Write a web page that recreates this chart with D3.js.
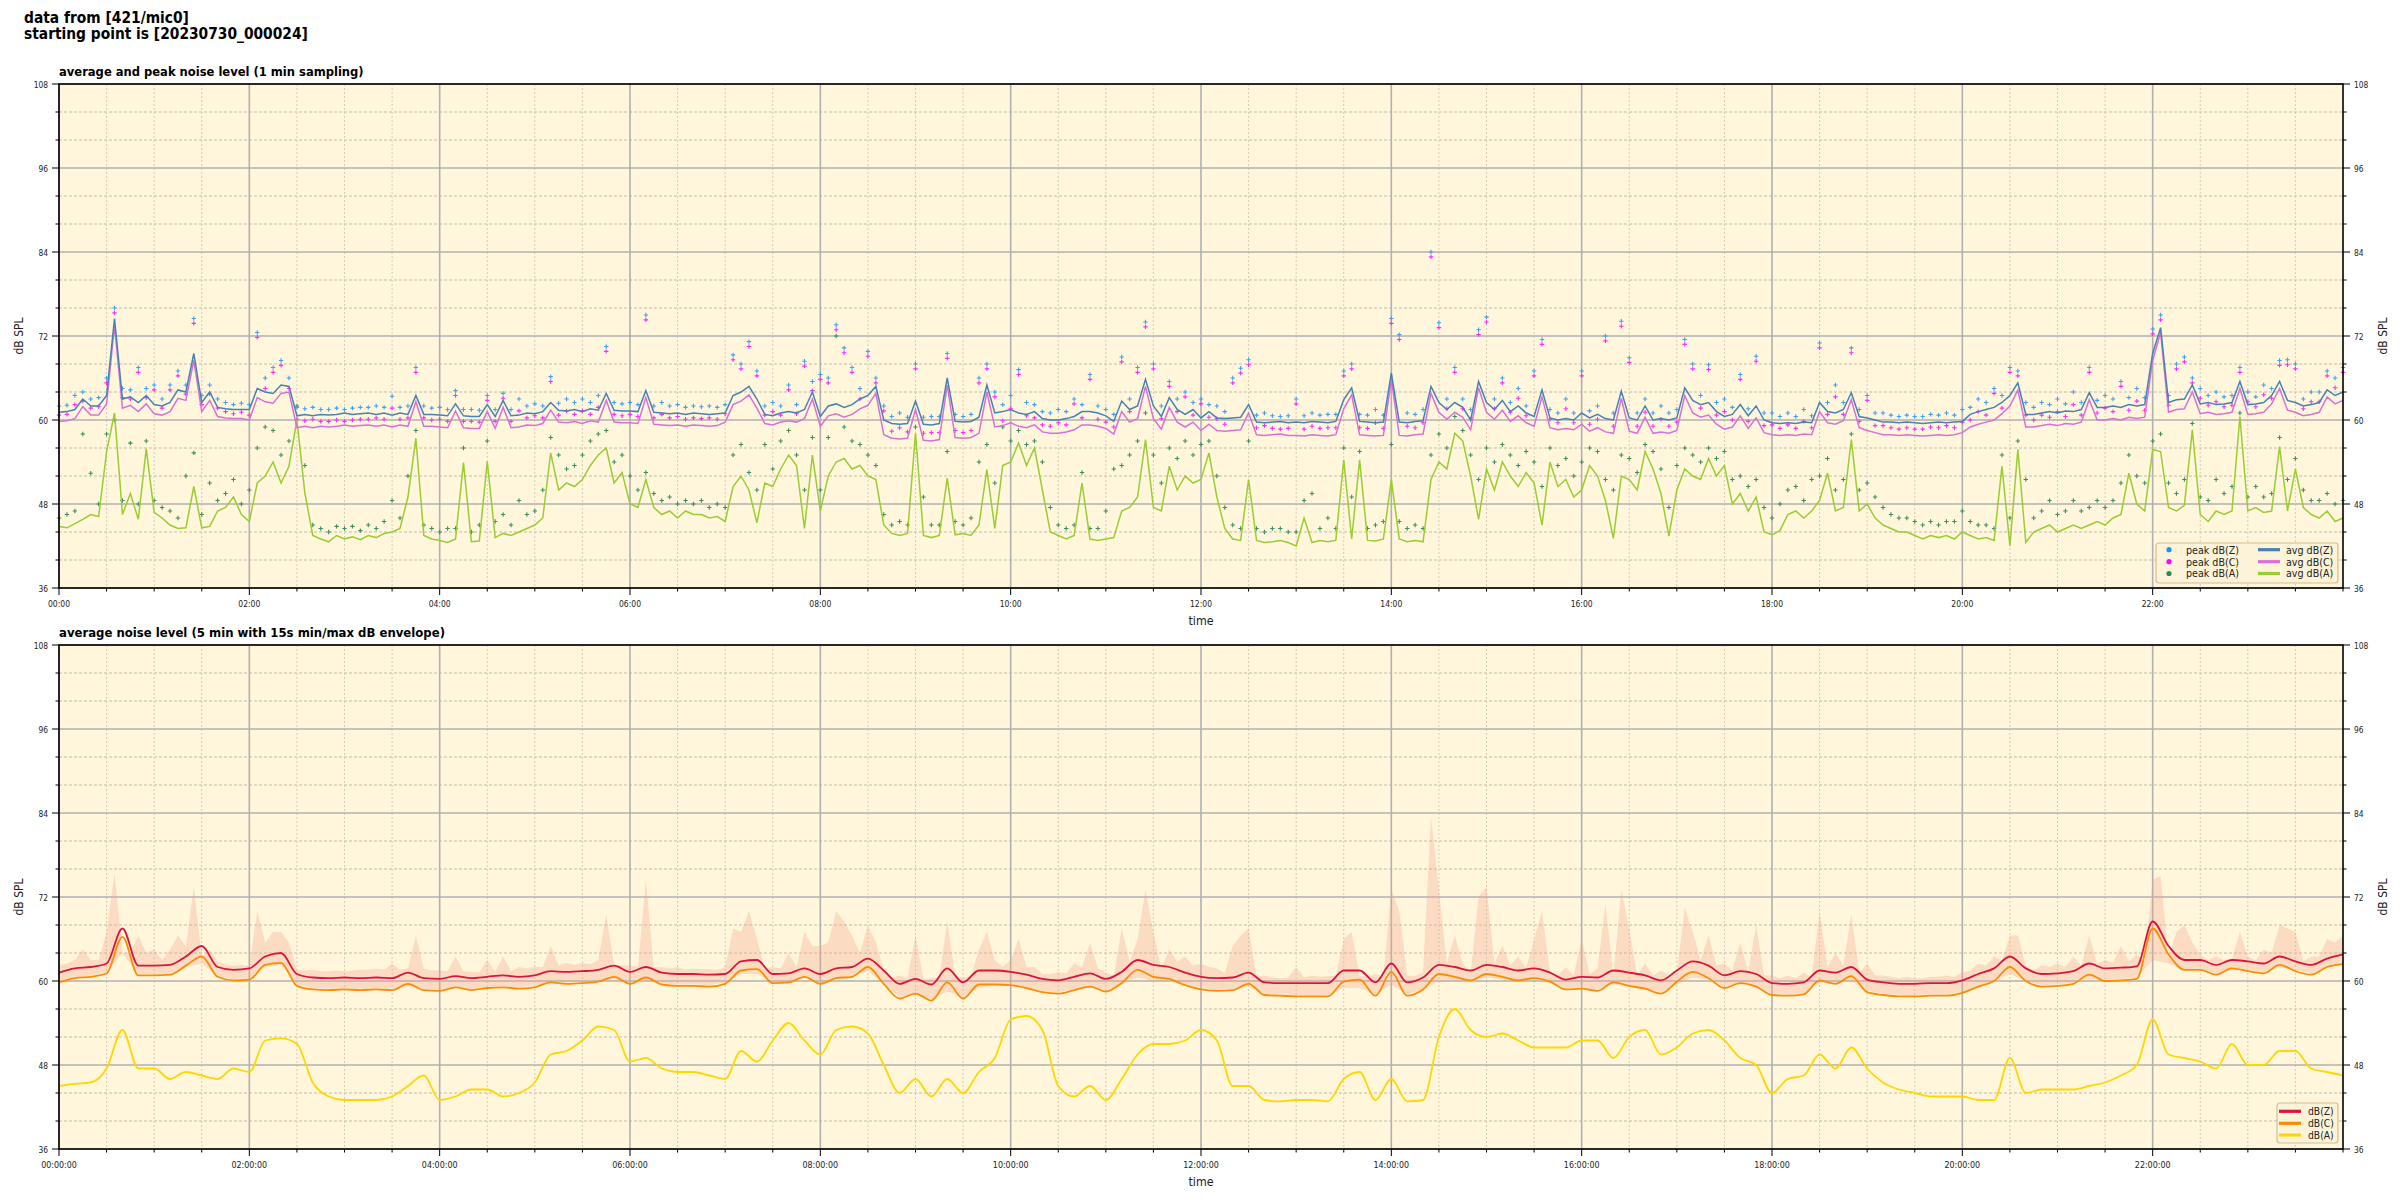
<!DOCTYPE html>
<html><head><meta charset="utf-8">
<script src="https://cdn.jsdelivr.net/npm/d3@7"></script>
<style>
body{margin:0;background:#fff}
svg{display:block}
text{font-family:"DejaVu Sans Condensed","DejaVu Sans",sans-serif;font-stretch:condensed;fill:#222}
</style>
</head><body>
<svg id="c" width="2400" height="1200"></svg>
<script>
// ---------------- DATA ----------------
const titleLines = ["data from [421/mic0]", "starting point is [20230730_000024]"];
const topTitle = "average and peak noise level (1 min sampling)";
const bottomTitle = "average noise level (5 min with 15s min/max dB envelope)";
const yTicks = [36, 48, 60, 72, 84, 96, 108];
const xTickHours = [0, 2, 4, 6, 8, 10, 12, 14, 16, 18, 20, 22];
const topStepMin = 5;     // top panel samples every 5 minutes (index * 5 min)
const bottomStepMin = 10; // bottom panel lines every 10 minutes

const avgZ = [
61.1,61.2,61.5,63.0,62.0,62.0,63.5,74.5,63.0,63.3,62.5,63.5,
62.2,62.0,62.5,64.3,64.0,69.5,62.5,64.0,61.8,61.6,61.5,61.5,
61.5,64.5,64.0,63.8,65.0,64.8,60.6,60.8,60.6,60.8,60.7,60.8,
61.0,60.8,60.9,61.0,60.8,61.0,60.7,61.0,60.8,63.5,60.8,60.8,
60.7,60.6,62.3,60.6,60.5,60.5,62.2,60.5,62.8,60.6,60.7,61.0,
60.9,61.2,62.5,61.4,61.3,61.5,61.2,61.6,61.4,63.8,61.4,61.3,
61.3,61.2,64.2,61.1,61.0,60.9,61.0,60.8,61.0,60.9,60.8,60.9,
61.0,63.5,64.0,64.8,63.0,60.8,60.6,61.0,61.2,61.0,61.5,64.0,
60.5,62.0,62.3,61.8,62.2,63.0,63.5,64.8,60.0,59.5,59.4,59.5,
62.7,59.4,59.3,59.5,66.0,59.8,59.7,59.8,60.4,65.0,61.0,61.2,
61.5,61.0,60.8,61.2,60.2,60.0,60.0,60.2,60.5,61.2,61.2,61.0,
60.6,59.8,62.7,61.5,62.0,65.8,62.0,60.5,63.2,61.5,60.8,61.5,
60.3,61.2,60.3,60.2,60.3,60.4,62.2,59.7,59.6,59.7,59.8,59.6,
59.7,59.6,59.8,59.7,59.6,59.8,62.9,64.6,59.8,59.7,59.6,59.7,
66.7,59.7,59.6,59.8,59.9,64.8,62.5,61.5,62.5,61.8,60.0,65.5,
62.5,61.5,62.8,61.2,62.0,61.0,60.5,64.3,60.3,60.0,60.2,60.0,
61.0,60.3,60.8,60.2,60.0,64.1,60.3,60.0,62.0,60.0,60.2,60.0,
60.3,64.6,62.8,62.2,62.5,61.2,60.5,60.8,62.2,60.6,62.0,60.0,
59.6,59.5,59.6,59.5,59.7,59.6,62.5,61.2,61.0,61.5,63.9,60.5,
60.3,60.0,59.7,59.7,59.6,59.7,59.6,59.5,59.6,59.7,59.6,59.7,
59.8,60.8,61.2,61.5,61.8,62.5,63.5,65.3,60.8,60.8,61.0,61.2,
61.0,61.3,61.2,61.5,63.9,61.8,61.8,62.0,61.8,62.2,62.0,62.2,
69.5,73.2,62.5,62.9,63.0,65.0,62.3,62.5,62.2,62.3,62.5,65.5,
62.2,62.3,62.5,63.5,65.5,62.8,62.5,62.0,62.2,62.5,64.3,63.5,
64.0];

const avgC = [
59.8,59.9,60.2,61.9,60.7,60.7,62.3,73.5,61.7,62.1,61.2,62.3,
60.9,60.7,61.2,63.1,62.8,68.5,61.2,62.8,60.5,60.3,60.2,60.2,
60.0,63.2,62.6,62.4,63.8,64.0,58.9,59.1,58.9,59.1,59.0,59.1,
59.3,59.1,59.2,59.3,59.1,59.3,59.0,59.3,59.1,62.6,59.1,59.1,
59.0,58.9,61.3,58.9,58.8,58.8,61.2,58.8,61.8,58.9,59.0,59.3,
59.2,59.5,61.4,59.7,59.6,59.8,59.5,59.9,59.7,62.8,59.7,59.6,
59.6,59.5,63.2,59.4,59.3,59.2,59.3,59.1,59.3,59.2,59.1,59.2,
59.7,62.2,62.7,63.6,61.7,59.5,59.3,59.7,59.9,59.7,60.2,63.0,
59.1,60.6,60.9,60.4,60.8,61.6,62.1,63.8,57.9,57.4,57.3,57.4,
61.5,57.1,57.0,57.2,65.0,57.5,57.4,57.5,58.1,64.0,59.0,59.2,
59.6,59.1,58.9,59.3,58.3,58.1,58.1,58.3,58.6,59.3,59.3,59.1,
58.8,58.0,61.2,59.7,60.2,64.8,60.2,58.7,61.8,59.7,59.0,59.7,
58.5,59.4,58.5,58.4,58.5,58.6,61.0,57.9,57.8,57.9,58.0,57.8,
57.8,57.7,57.9,57.8,57.7,57.9,61.6,63.6,57.9,57.8,57.7,57.8,
65.8,57.8,57.7,57.9,58.0,63.8,61.1,60.1,61.1,60.4,58.6,64.6,
61.1,60.1,61.4,59.8,60.6,59.6,59.1,63.3,58.9,58.6,58.8,58.6,
59.4,58.4,58.9,58.3,58.1,63.1,58.4,58.1,60.4,58.1,58.3,58.1,
58.5,63.5,61.0,60.4,60.7,59.4,58.7,59.0,60.6,58.8,60.3,58.2,
57.9,57.8,57.9,57.8,58.0,57.9,61.2,59.6,59.4,59.9,62.9,58.9,
58.5,58.2,57.9,57.9,57.8,57.9,57.8,57.7,57.8,57.9,57.8,57.9,
58.2,59.0,59.4,59.7,60.0,60.9,62.0,64.3,59.0,59.0,59.2,59.4,
59.2,59.5,59.4,59.7,62.9,60.0,60.0,60.2,60.0,60.4,60.2,60.4,
68.5,72.5,61.1,61.5,61.6,64.0,60.9,61.1,60.8,60.9,61.1,64.5,
60.8,60.9,61.1,62.3,64.5,61.4,61.1,60.6,60.8,61.1,63.3,62.3,
62.8];

const avgA = [
44.8,44.6,45.2,45.8,46.5,46.2,55.5,61.0,46.5,49.5,45.8,55.9,
46.8,46.0,45.0,44.5,44.6,50.5,44.6,44.8,47.0,47.5,49.0,46.5,
45.5,51.0,52.0,54.0,51.0,53.4,60.0,49.6,43.5,43.0,42.6,43.5,
43.0,43.3,42.9,43.5,43.2,43.8,44.0,44.5,49.0,57.4,43.5,43.0,
42.8,42.5,43.0,53.9,42.6,42.7,54.1,43.2,43.8,43.5,44.0,44.5,
45.0,46.0,55.3,50.0,51.0,50.5,51.5,53.5,55.0,56.0,51.0,52.5,
48.0,47.5,51.5,47.5,46.5,47.0,46.0,47.0,46.5,46.5,46.0,46.2,
45.5,50.5,52.0,50.0,45.3,51.0,50.5,53.0,55.0,53.5,44.5,55.0,
47.0,52.0,54.0,54.5,53.0,53.5,52.0,51.5,45.0,43.8,43.5,43.8,
58.1,43.5,43.2,43.5,51.7,43.6,43.8,43.5,45.0,52.9,44.5,53.5,
54.0,56.7,53.5,56.0,50.0,44.0,43.5,43.0,43.5,51.0,43.0,42.8,
43.0,43.2,47.0,47.5,49.0,57.2,47.5,47.0,53.4,50.0,52.0,51.0,
51.5,55.3,49.0,44.5,43.0,42.8,51.5,42.8,42.5,42.6,42.8,42.5,
42.0,46.0,42.5,42.8,42.6,42.8,54.3,43.0,54.3,42.8,42.7,43.0,
51.5,43.0,42.6,42.8,42.6,51.5,54.0,53.0,58.1,57.0,52.0,45.8,
53.0,50.0,54.0,52.0,50.5,52.5,51.0,45.0,54.0,50.5,51.5,49.0,
50.0,53.5,52.0,48.5,43.1,52.0,51.5,50.0,55.5,53.0,49.5,43.4,
50.0,53.0,52.0,51.5,54.5,52.0,53.5,48.0,49.5,47.0,49.0,44.0,
43.6,44.2,46.5,47.0,46.0,47.0,48.5,52.4,47.0,47.5,57.2,47.0,
48.0,46.0,45.0,44.5,44.0,44.0,43.5,43.0,43.5,43.2,43.5,43.0,
44.0,43.5,43.0,43.2,42.8,53.4,42.0,55.8,42.5,44.0,44.5,45.0,
44.0,44.5,45.0,44.5,45.0,45.5,45.0,46.0,46.5,52.4,48.0,47.0,
55.8,55.5,47.5,47.0,47.8,58.6,46.5,45.5,47.0,46.5,47.0,60.5,
47.0,47.5,46.8,47.0,56.2,47.0,53.0,47.5,46.5,46.0,47.0,45.5,
46.0];

const peakZ = [
62.0,62.1,63.5,64.0,63.0,63.2,66.0,76.0,64.5,64.3,67.5,64.5,
65.0,63.0,65.0,67.0,65.0,74.5,63.5,65.0,63.0,62.5,62.2,62.4,
62.2,72.5,66.0,67.5,68.5,66.0,61.8,61.6,61.8,61.5,61.5,61.7,
61.5,61.7,61.8,61.8,62.0,61.8,63.4,61.8,62.0,67.5,62.0,61.7,
61.8,61.5,64.2,61.5,61.5,61.4,63.5,61.5,63.8,61.5,63.0,62.0,
62.3,62.0,66.2,62.4,63.0,62.5,63.0,62.5,63.5,70.5,62.5,62.3,
62.5,62.2,75.0,62.0,62.5,62.0,62.2,61.8,62.0,61.9,62.0,61.8,
62.2,69.3,68.0,71.2,67.0,62.0,62.5,62.0,65.0,62.2,68.4,65.5,
66.5,66.0,73.6,70.3,67.5,64.5,69.8,66.0,62.0,60.5,61.0,60.4,
68.0,60.4,60.5,60.5,69.5,60.8,60.5,60.8,66.0,68.0,64.0,62.2,
63.5,67.2,62.5,62.2,61.2,61.0,61.5,61.2,63.0,62.2,66.5,62.0,
61.5,60.8,69.0,63.0,67.5,74.0,68.0,62.0,65.5,63.0,64.0,62.5,
63.0,62.2,62.0,61.2,66.0,67.4,68.6,60.7,61.0,60.6,60.5,60.6,
63.0,60.6,61.0,60.7,60.8,60.8,67.0,68.0,60.8,60.7,61.5,60.7,
74.5,72.2,61.0,60.8,61.5,84.0,73.9,63.0,67.5,63.0,61.5,72.9,
74.7,63.0,66.0,62.5,64.5,62.0,67.0,71.5,61.5,61.0,63.0,61.0,
67.0,61.3,62.0,72.0,61.0,74.1,68.9,61.0,63.0,61.0,62.0,61.0,
61.5,71.5,68.0,63.5,67.9,62.5,63.0,61.8,66.5,61.6,69.1,61.0,
61.0,60.5,61.0,60.5,61.5,60.6,71.0,62.5,65.0,62.5,70.3,61.5,
63.5,61.0,61.0,60.7,60.5,60.7,60.5,60.5,60.8,60.7,61.0,60.7,
61.5,61.8,63.0,62.5,64.5,63.5,67.5,67.0,62.5,61.8,62.5,62.2,
63.0,62.3,64.0,62.5,67.5,62.8,63.5,63.0,65.5,63.2,64.5,63.2,
73.0,75.0,63.5,68.0,69.0,66.0,64.5,63.5,64.0,63.3,63.5,67.5,
64.0,63.3,65.0,64.5,68.5,68.6,68.0,63.0,64.0,64.0,67.0,66.0,
67.5];

const peakC = [
60.7,60.8,62.2,62.7,61.7,61.9,65.3,75.3,63.2,63.0,66.8,63.2,
64.3,61.7,64.3,66.3,63.7,73.8,62.2,63.7,61.7,61.2,60.9,61.1,
60.7,71.8,64.5,66.8,67.8,64.5,60.1,59.9,60.1,59.8,59.8,60.0,
59.8,60.0,60.1,60.1,60.3,60.1,61.7,60.1,60.3,66.8,60.3,60.0,
60.1,59.8,63.5,59.8,59.8,59.7,62.8,59.8,63.1,59.8,61.3,60.3,
60.6,60.3,65.5,60.7,61.3,60.8,61.3,60.8,61.8,69.8,60.8,60.6,
60.8,60.5,74.3,60.3,60.8,60.3,60.5,60.1,60.3,60.2,60.3,60.1,
60.9,68.6,67.3,70.5,66.3,60.7,61.2,60.7,64.3,60.9,67.7,64.2,
65.8,65.3,72.9,69.6,66.8,63.0,69.1,65.3,61.3,58.4,58.9,58.3,
67.3,58.1,58.2,58.2,68.8,58.5,58.2,58.5,65.3,67.3,63.3,59.9,
61.6,66.5,60.6,60.3,59.3,59.1,59.6,59.3,62.3,60.3,65.8,60.1,
59.7,59.0,68.3,61.2,66.8,73.3,67.3,60.2,64.8,61.2,63.3,60.7,
62.3,60.4,60.2,59.4,65.3,66.7,67.9,58.9,59.2,58.8,58.7,58.8,
62.3,58.7,59.1,58.8,58.9,58.9,66.3,67.3,58.9,58.8,59.6,58.8,
73.8,71.5,59.1,58.9,59.6,83.3,73.2,61.6,66.8,61.6,60.1,72.2,
74.0,61.6,65.3,61.1,63.1,60.6,66.3,70.8,60.1,59.6,61.6,59.6,
66.3,59.4,60.1,71.3,59.1,73.4,68.2,59.1,61.1,59.1,60.1,59.1,
59.7,70.8,67.3,61.7,67.2,60.7,61.2,60.0,65.8,59.8,68.4,59.2,
59.3,58.8,59.3,58.8,59.8,58.9,70.3,60.8,63.3,60.8,69.6,59.8,
62.8,59.2,59.2,58.9,58.7,58.9,58.7,58.7,59.0,58.9,59.2,58.9,
59.7,60.0,61.2,60.7,63.8,61.7,66.8,66.3,60.7,60.0,60.7,60.4,
61.2,60.5,62.2,60.7,66.8,61.0,61.7,61.2,64.8,61.4,62.7,61.4,
72.3,74.3,62.1,67.3,68.3,65.3,63.1,62.1,62.6,61.9,62.1,66.8,
62.6,61.9,63.6,63.1,67.8,67.9,67.3,61.6,62.6,62.6,66.3,64.6,
66.8];

const peakA = [
46.0,46.5,47.0,58.0,52.4,48.0,58.0,60.0,48.5,56.7,48.0,57.0,
48.5,47.5,47.0,46.0,52.0,55.3,46.5,51.0,48.5,49.5,51.5,48.0,
50.0,56.0,59.0,58.5,55.0,57.0,62.0,53.5,45.0,44.5,44.0,44.8,
44.5,44.8,44.2,45.0,44.5,45.5,48.5,46.0,52.0,58.5,45.0,44.5,
44.0,44.5,44.5,56.0,44.0,45.0,57.0,45.5,46.5,45.0,48.5,46.5,
47.0,50.0,57.5,55.0,53.0,53.5,55.0,57.0,58.0,58.5,54.0,55.0,
52.0,50.0,52.5,49.5,48.5,49.0,48.0,48.5,48.0,48.5,47.5,48.0,
47.5,55.0,56.5,52.5,50.0,56.5,53.0,57.0,58.5,55.0,50.0,57.5,
50.0,57.5,72.0,59.0,57.0,56.5,55.0,53.5,46.5,45.0,45.5,45.0,
59.0,49.0,45.0,45.0,55.5,45.5,45.0,46.0,54.0,56.5,51.0,59.0,
57.0,58.5,56.5,57.0,54.0,47.5,45.0,44.5,45.0,52.5,44.5,44.5,
47.0,53.0,53.5,55.0,57.0,61.0,55.0,51.0,56.0,54.5,57.0,55.0,
56.5,57.0,52.0,47.5,45.0,44.5,57.0,44.5,44.0,44.5,44.5,44.0,
44.0,48.5,49.5,44.5,46.0,44.5,56.0,49.0,55.5,44.5,45.0,45.5,
56.5,45.5,44.5,45.0,44.5,55.0,58.0,56.0,60.5,58.5,55.0,51.5,
56.0,54.0,56.5,55.0,53.5,55.5,54.0,50.5,56.0,53.5,54.5,52.0,
54.0,56.0,55.5,51.5,50.0,55.0,54.5,52.5,56.5,55.5,53.0,47.5,
53.5,56.0,55.0,54.0,56.0,54.5,55.5,51.5,52.0,50.5,51.5,47.5,
46.0,48.0,50.0,50.5,48.5,51.5,52.0,54.5,50.0,51.5,58.0,50.0,
51.0,49.0,47.5,46.5,46.0,46.0,45.5,45.0,45.5,45.0,45.5,45.5,
47.0,45.5,45.0,45.0,44.5,55.0,46.0,57.0,51.5,46.0,47.0,48.5,
46.5,47.0,48.5,47.0,47.5,48.5,47.5,48.5,51.0,55.0,52.0,51.0,
57.0,58.0,51.0,49.5,51.5,59.5,49.0,48.5,51.5,49.5,50.5,61.0,
49.0,50.5,49.0,49.5,57.5,51.5,54.5,50.0,48.5,48.5,49.5,48.0,
48.5];

const botZ = [
61.2,61.8,62.0,62.5,67.5,62.2, 62.2,62.3,63.5,65.0,62.0,61.6,
61.8,63.5,64.0,61.0,60.5,60.4, 60.5,60.4,60.5,60.4,61.2,60.4,
60.3,60.7,60.4,60.6,60.8,60.6, 60.8,61.4,61.3,61.4,61.6,62.2,
61.3,62.0,61.2,61.0,61.0,60.9, 61.0,62.8,63.0,61.0,61.1,61.8,
61.0,61.8,62.0,63.2,61.5,59.6, 60.3,59.5,61.8,59.8,61.5,61.5,
61.3,60.9,60.3,60.1,60.6,61.1, 60.3,61.3,63.0,62.3,62.0,61.2,
60.6,60.4,60.5,61.2,59.8,59.7, 59.7,59.7,59.7,61.5,61.5,59.8,
62.5,59.8,60.5,62.3,62.0,61.5, 62.3,62.0,61.5,61.8,61.2,60.2,
60.6,60.5,61.5,61.2,60.8,60.1, 61.5,62.8,62.2,60.8,61.4,61.0,
59.7,59.6,59.8,61.5,61.2,62.0, 60.2,59.8,59.6,59.6,59.7,59.7,
60.1,61.0,61.8,63.5,61.8,61.0, 61.1,61.4,62.5,61.8,61.9,62.1,
68.5,65.0,63.0,63.0,62.3,63.0, 62.8,62.5,63.5,62.8,62.3,63.2,
63.8];

const botC = [
59.8,60.4,60.6,61.1,66.3,60.8, 60.8,60.9,62.2,63.5,60.6,60.1,
60.2,62.3,62.6,59.3,58.8,58.7, 58.8,58.7,58.8,58.7,59.6,58.7,
58.6,59.1,58.7,59.0,59.1,58.9, 59.1,59.8,59.6,59.7,59.9,60.6,
59.6,60.5,59.5,59.3,59.3,59.2, 59.6,61.5,61.7,59.7,59.8,60.6,
59.6,60.4,60.6,62.0,59.6,57.5, 58.2,57.2,59.8,57.5,59.5,59.5,
59.4,59.0,58.4,58.2,58.7,59.2, 58.5,59.7,61.6,60.6,60.3,59.4,
58.8,58.6,58.7,59.6,58.0,57.9, 57.8,57.8,57.8,59.9,60.2,57.9,
61.3,57.9,58.8,61.0,60.6,60.1, 61.0,60.6,60.1,60.4,59.9,58.8,
58.9,58.6,59.8,59.3,58.9,58.2, 59.9,61.3,60.4,59.0,59.7,59.2,
58.0,57.9,58.1,60.1,59.6,60.7, 58.4,58.0,57.8,57.8,57.9,57.9,
58.3,59.2,60.0,62.0,60.0,59.2, 59.3,59.6,60.9,60.0,60.1,60.3,
67.5,63.8,61.6,61.6,60.9,61.8, 61.4,61.1,62.3,61.4,60.9,62.0,
62.4];

const botA = [
45.0,45.3,45.5,47.5,53.0,47.5, 47.5,46.0,47.0,46.5,46.0,47.5,
47.0,51.5,51.8,51.0,45.5,43.5, 43.0,43.0,43.0,43.5,45.0,46.5,
43.0,43.5,44.5,44.5,43.5,44.0, 45.5,49.5,50.0,51.5,53.5,53.0,
48.5,49.0,47.5,47.0,47.0,46.5, 46.0,50.0,48.5,51.5,54.0,51.5,
49.5,53.0,53.5,52.5,48.0,44.0, 46.0,43.5,46.0,44.0,47.0,49.0,
54.5,55.0,53.0,45.0,43.5,45.0, 43.0,46.0,49.5,51.0,51.0,51.5,
53.0,51.5,45.0,45.0,43.0,42.8, 43.0,43.0,42.8,46.0,47.0,43.0,
46.0,42.8,43.0,52.0,56.0,53.0, 52.0,52.5,51.5,50.5,50.5,50.5,
51.5,51.5,49.0,52.0,53.0,49.5, 50.5,52.5,53.0,51.5,49.0,48.0,
44.0,46.0,46.5,49.5,47.5,50.5, 47.5,45.5,44.5,44.0,43.5,43.5,
43.5,43.0,43.0,49.0,44.0,44.5, 44.5,44.5,45.0,45.5,46.5,48.0,
54.5,49.5,49.0,48.5,47.5,51.0, 48.0,48.0,50.0,50.0,47.5,47.0,
46.5];

// envelope upper edge (15 s max), every 5 minutes
const envMax = [
62.3,62.5,63.0,64.5,63.0,63.0,67.0,75.5,64.0,64.0,66.5,64.0,
64.5,63.0,64.5,66.5,65.0,73.5,63.5,64.5,62.8,62.4,62.2,62.3,
62.2,70.0,65.5,67.0,67.0,65.5,61.6,61.5,61.6,61.4,61.4,61.5,
61.4,61.5,61.6,61.6,61.8,61.6,62.5,61.6,61.8,66.5,61.8,61.5,
61.5,61.4,63.5,61.4,61.3,61.3,63.0,61.3,63.5,61.4,62.0,61.8,
62.0,62.0,65.0,62.2,62.6,62.3,62.6,62.4,63.0,69.5,62.3,62.2,
62.2,62.0,74.5,61.9,62.0,61.8,62.0,61.6,61.8,61.7,61.7,61.6,
62.0,67.5,67.0,70.0,66.0,61.8,62.0,61.8,64.0,62.0,67.0,65.0,
65.0,65.5,70.0,68.5,66.5,64.0,68.0,65.5,61.5,60.5,60.8,60.4,
66.5,60.3,60.4,60.5,68.5,60.7,60.5,60.7,64.5,67.0,63.0,62.0,
63.0,66.0,62.0,62.0,61.0,61.0,61.3,61.1,62.5,62.0,65.5,61.8,
61.2,60.7,67.5,62.8,66.0,73.0,67.0,61.8,64.5,62.8,63.5,62.2,
62.5,62.0,61.8,61.1,65.0,66.5,67.5,60.6,60.8,60.5,60.4,60.5,
62.0,60.5,60.8,60.6,60.7,60.7,66.0,67.0,60.7,60.6,61.0,60.6,
73.0,70.0,60.8,60.7,61.2,83.5,73.0,62.5,66.5,62.5,61.2,72.0,
73.5,62.5,65.0,62.2,63.5,61.8,66.0,70.0,61.2,60.8,62.0,60.8,
66.0,61.0,61.8,71.0,60.8,73.0,67.5,60.8,62.5,60.8,61.5,60.8,
61.2,70.5,67.0,63.0,66.5,62.2,62.5,61.5,65.5,61.3,68.0,60.8,
60.8,60.4,60.8,60.4,61.2,60.5,70.0,62.0,64.0,62.2,69.5,61.2,
62.5,60.8,60.8,60.6,60.4,60.6,60.4,60.4,60.6,60.6,60.8,60.6,
61.2,61.5,62.5,62.2,63.5,63.0,66.5,66.5,62.2,61.5,62.2,62.0,
62.5,62.0,63.5,62.2,66.5,62.5,63.0,62.6,65.0,62.8,63.8,62.8,
74.5,75.0,63.2,67.0,68.0,65.5,63.8,63.0,63.5,63.0,63.2,67.0,
63.5,63.0,64.5,64.0,68.0,67.5,67.0,62.8,63.5,63.5,66.0,65.5,
66.5];

// envelope lower edge (15 s min), every 10 minutes
const envMin = [
60.0,60.6,60.8,61.3,64.0,61.0, 61.0,61.1,62.0,62.5,60.8,60.3,
60.4,62.0,62.3,59.5,59.0,58.9, 59.0,58.9,59.0,58.9,59.3,58.9,
58.8,59.2,58.9,59.2,59.2,59.1, 59.3,59.8,59.8,59.9,60.0,60.2,
59.8,60.0,59.7,59.5,59.5,59.4, 59.8,61.0,61.0,59.9,60.0,60.5,
59.8,60.4,60.6,61.5,59.5,57.7, 58.2,57.4,58.5,57.7,59.0,59.5,
59.5,59.2,58.6,58.4,58.9,59.2, 58.7,59.5,60.5,60.0,60.0,59.5,
59.0,58.8,58.9,59.2,58.2,58.1, 58.0,58.0,58.0,59.0,59.0,58.1,
59.5,58.1,58.8,60.0,60.0,60.0, 60.5,60.2,60.0,60.2,59.8,59.0,
59.1,58.8,59.5,59.3,59.0,58.4, 59.5,60.5,60.2,59.2,59.7,59.3,
58.2,58.1,58.3,59.8,59.6,60.0, 58.6,58.2,58.0,58.0,58.1,58.1,
58.5,59.3,60.0,61.0,60.0,59.4, 59.5,59.8,60.3,60.2,60.3,60.5,
63.0,62.5,61.6,61.6,61.1,61.5, 61.6,61.3,62.0,61.6,61.1,62.0,
62.4];

// ---------------- DRAWING ----------------
const svg = d3.select("#c");
const X0 = 59, X1 = 2343;
const x = d3.scaleLinear().domain([0, 1440]).range([X0, X1]);
const BG = "#fff6dc";

// size a text so that its rendered width matches the width measured on the reference
function fitText(sel, targetW) {
  sel.attr("font-size", "100px");
  const w = sel.node().getComputedTextLength();
  sel.attr("font-size", (100 * targetW / w).toFixed(2) + "px");
  return sel;
}

function drawPanel(y0, y1, title, fmt, titleW, tickW) {
  const y = d3.scaleLinear().domain([36, 108]).range([y1, y0]);
  const g = svg.append("g");
  g.append("rect").attr("x", X0).attr("y", y0).attr("width", X1 - X0).attr("height", y1 - y0).attr("fill", BG);
  const minorY = d3.range(36, 109, 4).filter(v => v % 12 !== 0);
  const minorX = d3.range(0, 1441, 30).filter(v => v % 120 !== 0);
  g.selectAll(".mgy").data(minorY).join("line")
    .attr("x1", X0).attr("x2", X1).attr("y1", d => y(d)).attr("y2", d => y(d))
    .attr("stroke", "#c4bcaa").attr("stroke-width", 1).attr("stroke-dasharray", "3,2");
  g.selectAll(".mgx").data(minorX).join("line")
    .attr("y1", y0).attr("y2", y1).attr("x1", d => x(d)).attr("x2", d => x(d))
    .attr("stroke", "#d6cdb9").attr("stroke-width", 1).attr("stroke-dasharray", "2,2");
  g.selectAll(".Mgy").data(yTicks).join("line")
    .attr("x1", X0).attr("x2", X1).attr("y1", d => y(d)).attr("y2", d => y(d))
    .attr("stroke", "#b0b0b0").attr("stroke-width", 1.6);
  g.selectAll(".Mgx").data(xTickHours.map(h => h * 60)).join("line")
    .attr("y1", y0).attr("y2", y1).attr("x1", d => x(d)).attr("x2", d => x(d))
    .attr("stroke", "#b0b0b0").attr("stroke-width", 1.6);
  const data = svg.append("g");
  const frame = () => {
    const f = svg.append("g");
    f.append("rect").attr("x", X0).attr("y", y0).attr("width", X1 - X0).attr("height", y1 - y0)
      .attr("fill", "none").attr("stroke", "#000").attr("stroke-width", 1.6);
    d3.range(36, 109, 4).forEach(v => {
      const len = v % 12 === 0 ? 7 : 3.5;
      f.append("line").attr("x1", X0 - len).attr("x2", X0).attr("y1", y(v)).attr("y2", y(v)).attr("stroke", "#000").attr("stroke-width", 1);
      f.append("line").attr("x1", X1).attr("x2", X1 + len).attr("y1", y(v)).attr("y2", y(v)).attr("stroke", "#000").attr("stroke-width", 1);
    });
    const probe = f.append("text").text("108");
    fitText(probe, 14.3);
    const fsY = probe.attr("font-size"); probe.remove();
    yTicks.forEach(v => {
      f.append("text").attr("x", X0 - 11).attr("y", y(v) + 3.5).attr("text-anchor", "end").attr("font-size", fsY).text(v);
      f.append("text").attr("x", X1 + 11).attr("y", y(v) + 3.5).attr("text-anchor", "start").attr("font-size", fsY).text(v);
    });
    d3.range(0, 1441, 30).forEach(m => {
      const major = m % 120 === 0 && m < 1440;
      const len = major ? 7 : 3.5;
      f.append("line").attr("x1", x(m)).attr("x2", x(m)).attr("y1", y1).attr("y2", y1 + len).attr("stroke", "#000").attr("stroke-width", 1);
    });
    const p2 = f.append("text").text(fmt(0));
    fitText(p2, tickW);
    const fsX = p2.attr("font-size"); p2.remove();
    xTickHours.forEach(h => {
      f.append("text").attr("x", x(h * 60)).attr("y", y1 + 19).attr("text-anchor", "middle").attr("font-size", fsX).text(fmt(h));
    });
    const t = f.append("text").attr("x", X0).attr("y", y0 - 8).attr("font-weight", "bold").style("fill", "#000").text(title);
    fitText(t, titleW);
    const tl = f.append("text").attr("x", (X0 + X1) / 2).attr("y", y1 + 37).attr("text-anchor", "middle").text("time");
    fitText(tl, 25);
    const cy = (y0 + y1) / 2;
    const a = f.append("text").attr("transform", `translate(23,${cy}) rotate(-90)`).attr("text-anchor", "middle").text("dB SPL");
    fitText(a, 37);
    const b = f.append("text").attr("transform", `translate(2387,${cy}) rotate(-90)`).attr("text-anchor", "middle").text("dB SPL");
    fitText(b, 37);
  };
  return {y, data, frame};
}

// Figure title
fitText(svg.append("text").attr("x", 24).attr("y", 23).attr("font-weight", "bold").style("fill", "#000").text(titleLines[0]), 165);
fitText(svg.append("text").attr("x", 24).attr("y", 39).attr("font-weight", "bold").style("fill", "#000").text(titleLines[1]), 284);

const pad = n => String(n).padStart(2, "0");

// ---- top panel
const P1 = drawPanel(84, 588, topTitle, h => pad(h) + ":00", 305, 22);
const tx = i => x(i * topStepMin);
function plusMarks(g, arr, color) {
  const p = arr.map((v, i) => {
    const cx = tx(i), cy = P1.y(v);
    return `M${cx - 2.2},${cy}h4.4M${cx},${cy - 2.2}v4.4`;
  }).join("");
  g.append("path").attr("d", p).attr("stroke", color).attr("stroke-width", 1.1).attr("fill", "none");
}
plusMarks(P1.data, peakA, "#3d8f5f");
plusMarks(P1.data, peakC, "#ff2bff");
plusMarks(P1.data, peakZ, "#3fa0f5");
const lineTop = d3.line().x((d, i) => tx(i)).y(d => P1.y(d));
P1.data.append("path").attr("d", lineTop(avgA)).attr("fill", "none").attr("stroke", "#9acd32").attr("stroke-width", 1.5);
P1.data.append("path").attr("d", lineTop(avgC)).attr("fill", "none").attr("stroke", "#da70d6").attr("stroke-width", 1.5);
P1.data.append("path").attr("d", lineTop(avgZ)).attr("fill", "none").attr("stroke", "#4682b4").attr("stroke-width", 1.5);
P1.frame();

// legend top
{
  const lg = svg.append("g");
  lg.append("rect").attr("x", 2156).attr("y", 543).attr("width", 182).attr("height", 40).attr("rx", 3)
    .attr("fill", "#fdf3d9").attr("stroke", "#d9bc90").attr("stroke-width", 1.2);
  const rows = [549.7, 561.7, 573.5];
  const pk = [["peak dB(Z)", "#1e90ff"], ["peak dB(C)", "#ff00ff"], ["peak dB(A)", "#2e8b57"]];
  const av = [["avg dB(Z)", "#4682b4"], ["avg dB(C)", "#da70d6"], ["avg dB(A)", "#9acd32"]];
  const probe = lg.append("text").text("peak dB(Z)");
  fitText(probe, 53);
  const fsL = probe.attr("font-size"); probe.remove();
  pk.forEach((d, i) => {
    lg.append("circle").attr("cx", 2169).attr("cy", rows[i]).attr("r", 2.6).attr("fill", d[1]);
    lg.append("text").attr("x", 2186).attr("y", rows[i] + 3.8).attr("font-size", fsL).text(d[0]);
  });
  av.forEach((d, i) => {
    lg.append("line").attr("x1", 2258).attr("x2", 2280).attr("y1", rows[i]).attr("y2", rows[i]).attr("stroke", d[1]).attr("stroke-width", 3.2);
    lg.append("text").attr("x", 2286).attr("y", rows[i] + 3.8).attr("font-size", fsL).text(d[0]);
  });
}

// ---- bottom panel
const P2 = drawPanel(645, 1149, bottomTitle, h => pad(h) + ":00:00", 386, 35.7);
const topEdge = envMax.map((v, i) => [x(i * topStepMin), P2.y(v)]);
const lowEdge = envMin.map((v, i) => [x(i * bottomStepMin), P2.y(v)]).reverse();
P2.data.append("path").attr("d", "M" + topEdge.concat(lowEdge).map(p => p.join(",")).join("L") + "Z")
  .attr("fill", "#f3a48e").attr("fill-opacity", 0.32).attr("stroke", "none");
const bx = i => x(i * bottomStepMin);
const lineBot = d3.line().x((d, i) => bx(i)).y(d => P2.y(d)).curve(d3.curveMonotoneX);
P2.data.append("path").attr("d", lineBot(botA)).attr("fill", "none").attr("stroke", "#ffd700").attr("stroke-width", 1.8);
P2.data.append("path").attr("d", lineBot(botC)).attr("fill", "none").attr("stroke", "#ff8c00").attr("stroke-width", 1.8);
P2.data.append("path").attr("d", lineBot(botZ)).attr("fill", "none").attr("stroke", "#dc143c").attr("stroke-width", 1.8);
P2.frame();

{
  const lg = svg.append("g");
  lg.append("rect").attr("x", 2277).attr("y", 1103).attr("width", 61).attr("height", 40).attr("rx", 3)
    .attr("fill", "#fdf3d9").attr("stroke", "#d9bc90").attr("stroke-width", 1.2);
  const rows = [1111.3, 1123.3, 1135];
  const probe = lg.append("text").text("dB(Z)");
  fitText(probe, 25.7);
  const fsL = probe.attr("font-size"); probe.remove();
  [["dB(Z)", "#dc143c"], ["dB(C)", "#ff8c00"], ["dB(A)", "#ffd700"]].forEach((d, i) => {
    lg.append("line").attr("x1", 2279).attr("x2", 2301).attr("y1", rows[i]).attr("y2", rows[i]).attr("stroke", d[1]).attr("stroke-width", 3.2);
    lg.append("text").attr("x", 2308).attr("y", rows[i] + 3.8).attr("font-size", fsL).text(d[0]);
  });
}
</script>
</body></html>
